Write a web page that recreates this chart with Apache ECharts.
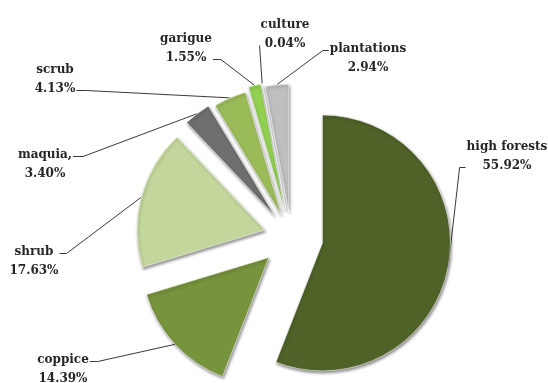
<!DOCTYPE html>
<html>
<head>
<meta charset="utf-8">
<title>Forest cover types</title>
<script src="https://cdn.jsdelivr.net/npm/echarts@6/dist/echarts.min.js"></script>
<style>
  html, body { margin: 0; padding: 0; background: #ffffff; }
  #chart { width: 548px; height: 383px; }
</style>
</head>
<body>
<div id="chart"></div>
<script>
// Land-cover categories, clockwise from 12 o'clock
const categories = ['high forests', 'coppice', 'shrub', 'maquia,', 'scrub', 'garigue', 'culture', 'plantations'];
// Share of each category (%)
const shares = [55.92, 14.39, 17.63, 3.40, 4.13, 1.55, 0.04, 2.94];

// Styling
const colors = ['#4f6228', '#77933c', '#c3d69b', '#6e6e6e', '#9bbb59', '#92d050', '#e4eef2', '#bfbfbf'];
const explode = [32, 30, 27, 27, 24, 28, 28, 25];   // px each slice is pulled out
const pieCenter = [291, 237];
const pieRadius = 128;

// Label placement: centre of label box, side the leader attaches to, which text line, tail length
const labelPlace = [
  { x: 507, y: 156, side: 'left',  line: 1, tail: 6 },
  { x: 63,  y: 369, side: 'right', line: 0, tail: 8 },
  { x: 34,  y: 261, side: 'right', line: 0, tail: 7 },
  { x: 45,  y: 164, side: 'right', line: 0, tail: 10 },
  { x: 55,  y: 79,  side: 'right', line: 1, tail: 10 },
  { x: 186, y: 48,  side: 'right', line: 1, tail: 8 },
  { x: 285, y: 34,  side: 'left',  line: 1, tail: 0 },
  { x: 368, y: 58,  side: 'left',  line: 0, tail: 6 }
];
const lineH = 19;

const total = shares.reduce((a, b) => a + b, 0);
let cum = 0;
const centers = shares.map((v, i) => {
  const mid = (cum + v / 2) / total * 2 * Math.PI;
  cum += v;
  return [pieCenter[0] + explode[i] * Math.sin(mid), pieCenter[1] - explode[i] * Math.cos(mid)];
});

const labelFont = {
  fontFamily: 'DejaVu Serif',
  fontSize: 12,
  fontWeight: 'bold',
  color: '#262626',
  lineHeight: lineH
};

function makeSeries(i) {
  return {
    type: 'pie',
    center: centers[i],
    radius: pieRadius,
    startAngle: 90,
    clockwise: true,
    avoidLabelOverlap: false,
    silent: true,
    animation: false,
    label: Object.assign({
      position: 'outside',
      align: 'center',
      formatter: p => p.name + '\n' + p.value.toFixed(2) + '%'
    }, labelFont),
    labelLine: {
      show: true,
      length: 10,
      length2: 10,
      lineStyle: { color: '#3a3a3a', width: 1 }
    },
    labelLayout: function (params) {
      const pl = labelPlace[i];
      const w = params.labelRect.width;
      const h = params.labelRect.height;
      const top = pl.y - h / 2;
      const ly = top + lineH * (pl.line + 0.5) + 2;
      const sx = pl.side === 'left' ? pl.x - w / 2 - 1 : pl.x + w / 2 + 1;
      const dir = pl.side === 'left' ? -1 : 1;
      const anchor = params.labelLinePoints ? params.labelLinePoints[0] : [sx, ly];
      return {
        x: pl.x,
        y: pl.y,
        align: 'center',
        verticalAlign: 'middle',
        labelLinePoints: [anchor, [sx + dir * pl.tail, ly], [sx, ly]]
      };
    },
    data: shares.map((v, j) => ({
      name: categories[j],
      value: v,
      itemStyle: j === i ? {
        color: colors[i],
        borderColor: 'rgba(255,255,255,0.55)',
        borderWidth: 1,
        shadowColor: 'rgba(0,0,0,0.45)',
        shadowBlur: 3,
        shadowOffsetX: 1,
        shadowOffsetY: 2
      } : { color: 'rgba(0,0,0,0)', borderWidth: 0, shadowBlur: 0 },
      label: { show: j === i },
      labelLine: { show: j === i }
    }))
  };
}

const chart = echarts.init(document.getElementById('chart'), null, { renderer: 'canvas' });
chart.setOption({
  backgroundColor: '#ffffff',
  animation: false,
  series: shares.map((_, i) => makeSeries(i))
});
</script>
</body>
</html>
